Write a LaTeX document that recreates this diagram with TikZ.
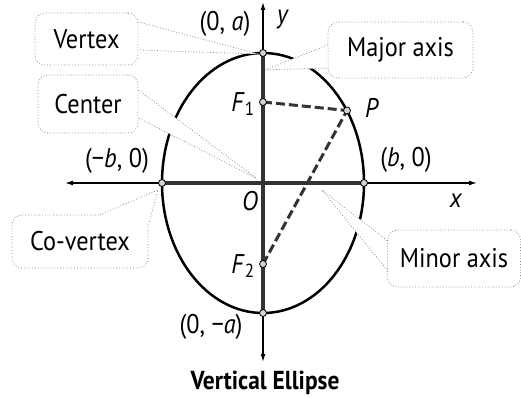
\documentclass[tikz,border=0pt]{standalone}
\usepackage{fontspec}
\setmainfont[FakeStretch=0.9]{PT Sans}
\usetikzlibrary{arrows.meta}
\definecolor{calloutgray}{RGB}{140,140,140}

\begin{document}
\begin{tikzpicture}[
    x=1pt, y=-1pt,
    lbl/.style={font=\fontsize{27}{30}\selectfont, inner sep=1pt},
    callout/.style={draw=calloutgray, dotted, thick, rounded corners=10pt, fill=white, font=\fontsize{27}{30}\selectfont},
    wedge/.style={draw=calloutgray, dotted, thick},
    axis/.style={line width=1.3pt, {Latex[length=8pt,width=5pt]}-{Latex[length=8pt,width=5pt]}},
    mainaxis/.style={line width=4.5pt, black!80},
    focal/.style={line width=3pt, black!80, dash pattern=on 9pt off 4pt},
    dot/.style={circle, draw=black, fill=gray!35, line width=0.8pt, inner sep=0pt, minimum size=7pt}
]
    \useasboundingbox (0,0) rectangle (521,398);

    % Key points
    \coordinate (O) at (263,183);
    \coordinate (top) at (263,53);
    \coordinate (bottom) at (263,313);
    \coordinate (left) at (162,183);
    \coordinate (right) at (364,183);
    \coordinate (F1) at (263,102);
    \coordinate (F2) at (263,264);
    \coordinate (P) at (347,110.5);

    % Ellipse
    \draw[line width=2.5pt] (O) ellipse [x radius=101, y radius=130];

    % Callout boxes
    \node[callout, minimum width=103pt, minimum height=52pt] (vertexbox) at (86.5,39) {Vertex};
    \node[callout, minimum width=100pt, minimum height=58pt] (centerbox) at (88,104) {Center};
    \node[callout, minimum width=145pt, minimum height=56pt] (majorbox) at (400.5,50) {Major axis};
    \node[callout, minimum width=136pt, minimum height=53pt] (covbox) at (80,241.5) {Co-vertex};
    \node[callout, minimum width=133pt, minimum height=57pt] (minorbox) at (454,258.5) {Minor axis};

    % Callout pointers
    \coordinate (vertextip) at (258,54);
    \coordinate (centertip) at (256,178);
    \coordinate (majortip) at (265,70);
    \coordinate (covtip) at (158,190);
    \coordinate (minortip) at (322,190);
    \fill[white] ([yshift=17pt]vertexbox.east) -- (vertextip) -- ([yshift=-11pt]vertexbox.east) -- cycle;
    \draw[wedge] ([yshift=17pt]vertexbox.east) -- (vertextip) -- ([yshift=-11pt]vertexbox.east);
    \fill[white] ([yshift=14pt]centerbox.east) -- (centertip) -- ([yshift=-14pt]centerbox.east) -- cycle;
    \draw[wedge] ([yshift=14pt]centerbox.east) -- (centertip) -- ([yshift=-14pt]centerbox.east);
    \fill[white] ([yshift=5pt]majorbox.west) -- (majortip) -- ([yshift=-18pt]majorbox.west) -- cycle;
    \draw[wedge] ([yshift=5pt]majorbox.west) -- (majortip) -- ([yshift=-18pt]majorbox.west);
    \fill[white] ([xshift=20pt]covbox.north) -- (covtip) -- ([yshift=-11pt]covbox.north east) -- cycle;
    \draw[wedge] ([xshift=20pt]covbox.north) -- (covtip) -- ([yshift=-11pt]covbox.north east);
    \fill[white] ([yshift=18pt]minorbox.west) -- (minortip) -- ([yshift=-11.5pt]minorbox.west) -- cycle;
    \draw[wedge] ([yshift=18pt]minorbox.west) -- (minortip) -- ([yshift=-11.5pt]minorbox.west);

    % Axes
    \draw[axis] (65,183) -- (477,183);
    \draw[axis] (263,2) -- (263,362);
    \draw[mainaxis] (top) -- (bottom);
    \draw[mainaxis] (left) -- (right);

    % Focal distances
    \draw[focal] (F1) -- (P);
    \draw[focal] (F2) -- (P);

    % Points
    \foreach \p in {top, bottom, left, right, F1, F2, P}
        \node[dot] at (\p) {};

    % Labels
    \node[lbl] (toplbl) at (225,24) {(0, \textit{a})};
    \node[lbl] (ylbl) at (283,20) {\textit{y}};
    \node[lbl] (f1lbl) at (243,104) {\textit{F}\textsubscript{1}};
    \node[lbl] (plbl) at (372,108) {\textit{P}};
    \node[lbl] (rightlbl) at (406,160) {(\textit{b}, 0)};
    \node[lbl] (leftlbl) at (117,161) {(−\textit{b}, 0)};
    \node[lbl] (xlbl) at (456,201) {\textit{x}};
    \node[lbl] (olbl) at (250,201) {\textit{O}};
    \node[lbl] (f2lbl) at (243,266) {\textit{F}\textsubscript{2}};
    \node[lbl] (bottomlbl) at (211,327) {(0, −\textit{a})};
    \node[lbl, font=\fontsize{26}{30}\selectfont\bfseries] (title) at (265,383) {Vertical Ellipse};
\end{tikzpicture}
\end{document}
